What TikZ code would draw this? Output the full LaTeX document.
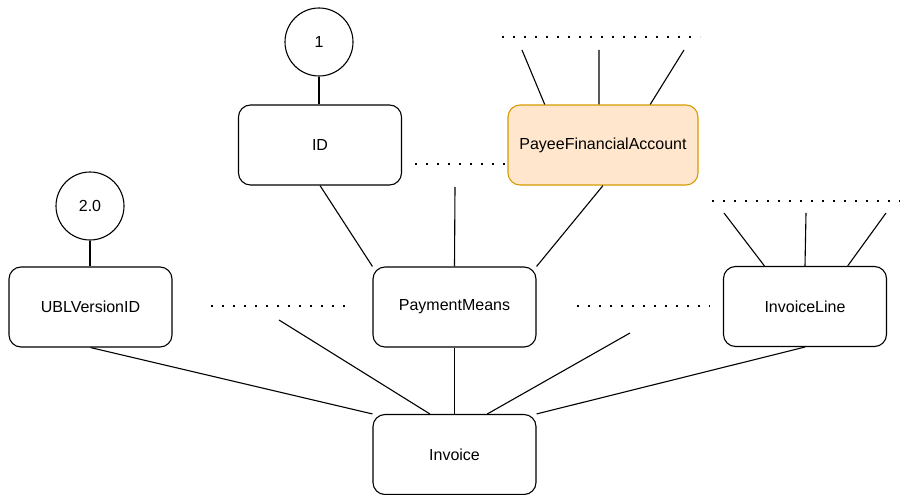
\documentclass[tikz,border=0pt]{standalone}
\usepackage{fontspec}
\setmainfont{Liberation Sans}
\usetikzlibrary{calc}
\definecolor{accfill}{HTML}{FFE6CC}
\definecolor{accdraw}{HTML}{D79B00}
\tikzset{
  elem/.style={draw=black, line width=1.1pt, rounded corners=12pt,
    minimum width=163pt, minimum height=80pt, inner sep=0pt,
    font=\fontsize{16}{19}\selectfont, fill=white},
  accent/.style={elem, fill=accfill, draw=accdraw, minimum width=190pt},
  val/.style={draw=black, line width=1.1pt, circle, minimum size=68pt,
    inner sep=0pt, font=\fontsize{16}{19}\selectfont},
  link/.style={draw=black, line width=1.1pt},
  more/.style={draw=black, line width=2.4pt, dash pattern=on 2.4pt off 8.6pt}
}
\begin{document}
\begin{tikzpicture}[x=1pt, y=-1pt]
  \useasboundingbox (0,0) rectangle (900,495);

  % element boxes
  \node[elem] (inv) at (454.5,454.5) {Invoice};
  \node[elem] (ubl) at (90.5,307) {UBLVersionID};
  \node[elem] (pm)  at (454.5,307) {PaymentMeans};
  \node[elem] (il)  at (805,306.5) {InvoiceLine};
  \node[elem] (id)  at (320,145) {ID};
  \node[accent] (pfa) at (603,145) {PayeeFinancialAccount};

  % value circles
  \node[val] (v1) at (319,42) {1};
  \node[val] (v2) at (90,206) {2.0};

  % loose ends of the elided branches
  \coordinate (a1) at (279,320);
  \coordinate (a2) at (630,333);
  \coordinate (b1) at (455,187);
  \coordinate (p1) at (522,50);
  \coordinate (p2) at (599,50);
  \coordinate (p3) at (684,50);
  \coordinate (l1) at (724,213);
  \coordinate (l2) at (806,213);
  \coordinate (l3) at (886,213);

  % children of Invoice
  \draw[link] (ubl.south) -- (inv.north west);
  \draw[link] (a1) -- ($(inv.north west)!0.35!(inv.north east)$);
  \draw[link] (pm.south) -- (inv.north);
  \draw[link] (a2) -- ($(inv.north west)!0.70!(inv.north east)$);
  \draw[link] (il.south) -- (inv.north east);

  % children of PaymentMeans
  \draw[link] (id.south) -- (pm.north west);
  \draw[link] (b1) -- (pm.north);
  \draw[link] (pfa.south) -- (pm.north east);

  % children of PayeeFinancialAccount
  \draw[link] (p1) -- ($(pfa.north west)!0.195!(pfa.north east)$);
  \draw[link] (p2) -- ($(pfa.north west)!0.479!(pfa.north east)$);
  \draw[link] (p3) -- ($(pfa.north west)!0.747!(pfa.north east)$);

  % children of InvoiceLine
  \draw[link] (l1) -- ($(il.north west)!0.253!(il.north east)$);
  \draw[link] (l2) -- ($(il.north west)!0.5!(il.north east)$);
  \draw[link] (l3) -- ($(il.north west)!0.76!(il.north east)$);

  % values
  \draw[link] (v1.south) -- (v1.south |- id.north);
  \draw[link] (v2.south) -- (v2.south |- ubl.north);

  % elided siblings
  \coordinate (d1a) at (502,37);  \coordinate (d1b) at (700,37);
  \coordinate (d2a) at (415,164); \coordinate (d2b) at (505,164);
  \coordinate (d3a) at (211,306); \coordinate (d3b) at (346,306);
  \coordinate (d4a) at (577,306); \coordinate (d4b) at (710,306);
  \coordinate (d5a) at (712,201); \coordinate (d5b) at (900,201);
  \draw[more] (d1a) -- (d1b);
  \draw[more] (d2a) -- (d2b);
  \draw[more] (d3a) -- (d3b);
  \draw[more] (d4a) -- (d4b);
  \draw[more] (d5a) -- (d5b);
\end{tikzpicture}
\end{document}
